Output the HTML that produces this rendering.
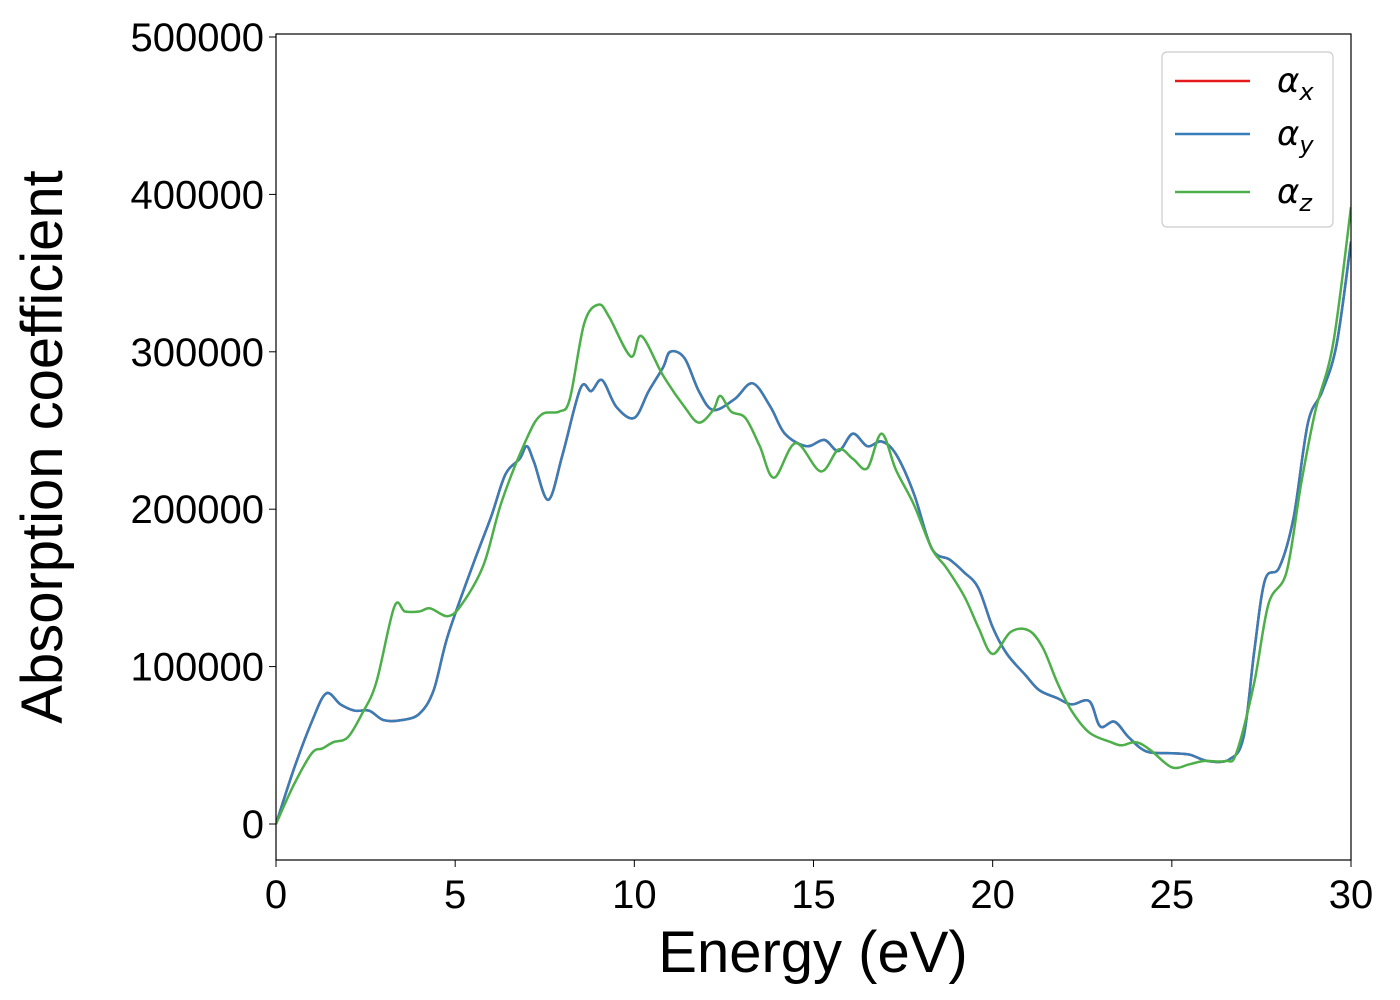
<!DOCTYPE html>
<html><head><meta charset="utf-8"><style>
html,body{margin:0;padding:0;background:#fff;}
svg{display:block;font-family:"Liberation Sans","DejaVu Sans",sans-serif;}
</style></head><body>
<svg id="chart" width="1400" height="1000" viewBox="0 0 1400 1000">
<rect x="0" y="0" width="1400" height="1000" fill="#fff"/>
<g id="ticks"></g>
<g id="series" clip-path="url(#clip)"></g>
<defs><clipPath id="clip"><rect x="276" y="34" width="1075" height="826"/></clipPath></defs>
<rect x="276" y="34" width="1075" height="826" fill="none" stroke="#000" stroke-width="1.2"/>
<text x="813" y="972" font-size="58" text-anchor="middle">Energy (eV)</text>
<text transform="translate(62,447) rotate(-90)" font-size="58" text-anchor="middle">Absorption coefficient</text>
<g>
<rect x="1162" y="52" width="171" height="175" rx="5" fill="#fff" stroke="#ccc" stroke-width="1.2"/>
<g><line x1="1175" y1="81" x2="1250" y2="81" stroke="#e41a1c" stroke-width="2.5"/><text x="1277" y="92" font-size="34" font-style="italic" font-family="DejaVu Sans, sans-serif">α<tspan font-size="24" dy="8">x</tspan></text></g>
<g><line x1="1175" y1="134" x2="1250" y2="134" stroke="#377eb8" stroke-width="2.5"/><text x="1277" y="145" font-size="34" font-style="italic" font-family="DejaVu Sans, sans-serif">α<tspan font-size="24" dy="8">y</tspan></text></g>
<g><line x1="1175" y1="192" x2="1250" y2="192" stroke="#4daf4a" stroke-width="2.5"/><text x="1277" y="203" font-size="34" font-style="italic" font-family="DejaVu Sans, sans-serif">α<tspan font-size="24" dy="8">z</tspan></text></g>
</g>
</svg>
<script>
const xTicks=[0,5,10,15,20,25,30];
const yTicks=[0,100000,200000,300000,400000,500000];
const energyXY=[0,0.5,1.0,1.4,1.8,2.2,2.6,3.0,3.5,4.0,4.4,4.8,5.5,6.0,6.4,6.8,7.0,7.2,7.6,8.0,8.5,8.8,9.1,9.5,10.0,10.4,10.8,11.0,11.4,11.8,12.2,12.8,13.3,13.8,14.2,14.8,15.3,15.7,16.1,16.5,16.9,17.3,17.8,18.3,18.8,19.2,19.6,20.0,20.4,20.9,21.3,21.8,22.2,22.7,23.0,23.4,23.8,24.3,25.0,25.5,26.0,26.6,27.0,27.3,27.6,28.0,28.4,28.8,29.2,29.6,30.0];
const alphaX=[0,35000,65000,83000,76000,72000,72000,66000,66000,70000,85000,120000,165000,195000,222000,232000,240000,230000,206000,235000,277000,275000,282000,265000,258000,275000,290000,300000,296000,275000,263000,270000,280000,265000,248000,240000,244000,237000,248000,240000,243000,235000,210000,175000,168000,160000,150000,125000,108000,95000,85000,80000,76000,78000,62000,65000,55000,46000,45000,44000,40000,41000,55000,110000,155000,163000,195000,255000,275000,305000,370000];
const alphaY=alphaX.slice();
const energyZ=[0,0.5,1.0,1.3,1.6,2.0,2.4,2.8,3.3,3.6,4.0,4.3,4.8,5.2,5.8,6.3,7.0,7.4,7.9,8.2,8.6,9.0,9.3,9.9,10.2,10.8,11.4,11.8,12.2,12.4,12.7,13.1,13.5,13.9,14.5,15.2,15.7,16.1,16.5,16.9,17.3,17.8,18.3,18.7,19.2,19.6,20.0,20.5,21.0,21.4,21.8,22.2,22.7,23.3,23.6,24.0,24.4,25.0,25.5,25.9,26.5,26.8,27.3,27.7,28.2,28.6,29.0,29.5,30.0];
const alphaZ=[0,25000,45000,48000,52000,55000,70000,90000,138000,135000,135000,137000,132000,140000,165000,205000,245000,260000,262000,270000,318000,330000,322000,297000,310000,285000,265000,255000,263000,272000,262000,258000,240000,220000,242000,224000,238000,232000,226000,248000,225000,203000,175000,163000,145000,125000,108000,122000,123000,112000,90000,72000,58000,52000,50000,52000,47000,36000,38000,40000,40000,45000,90000,140000,160000,215000,262000,305000,392000];
const NS="http://www.w3.org/2000/svg";
const X0=276,X1=1351,Y0=824,Y1=37;
function sx(e){return X0+(e-0)/(30-0)*(X1-X0);}
function sy(v){return Y0+(v-0)/(500000-0)*(Y1-Y0);}
function pathD(xs,ys){
  const p=xs.map((x,i)=>[sx(x),sy(ys[i])]);
  let d="M"+p[0][0].toFixed(1)+","+p[0][1].toFixed(1);
  for(let i=0;i<p.length-1;i++){
    const a=p[i>0?i-1:i],b=p[i],c=p[i+1],e=p[i+2<p.length?i+2:i+1];
    const c1=[b[0]+(c[0]-a[0])/6,b[1]+(c[1]-a[1])/6],c2=[c[0]-(e[0]-b[0])/6,c[1]-(e[1]-b[1])/6];
    d+="C"+c1[0].toFixed(1)+","+c1[1].toFixed(1)+" "+c2[0].toFixed(1)+","+c2[1].toFixed(1)+" "+c[0].toFixed(1)+","+c[1].toFixed(1);
  }
  return d;
}
const tg=document.getElementById('ticks');
xTicks.forEach(t=>{
  const l=document.createElementNS(NS,'line');l.setAttribute('x1',sx(t));l.setAttribute('x2',sx(t));l.setAttribute('y1',860);l.setAttribute('y2',867);l.setAttribute('stroke','#000');
  
  
  tg.appendChild(l);
  const tx=document.createElementNS(NS,'text');tx.setAttribute('x',sx(t));tx.setAttribute('y',908);tx.setAttribute('font-size','40');tx.setAttribute('text-anchor','middle');tx.textContent=t;
  
  
  tg.appendChild(tx);
});
yTicks.forEach(t=>{
  const l=document.createElementNS(NS,'line');l.setAttribute('x1',269);l.setAttribute('x2',276);l.setAttribute('y1',sy(t));l.setAttribute('y2',sy(t));l.setAttribute('stroke','#000');
  
  
  tg.appendChild(l);
  const tx=document.createElementNS(NS,'text');tx.setAttribute('x',264);tx.setAttribute('y',sy(t)+14);tx.setAttribute('font-size','40');tx.setAttribute('text-anchor','end');tx.textContent=t;
  
  
  tg.appendChild(tx);
});
const sg=document.getElementById('series');
[[energyXY,alphaX,'#e41a1c','series-alpha-x'],[energyXY,alphaY,'#377eb8','series-alpha-y'],[energyZ,alphaZ,'#4daf4a','series-alpha-z']].forEach(s=>{
  const p=document.createElementNS(NS,'path');p.setAttribute('d',pathD(s[0],s[1]));p.setAttribute('fill','none');p.setAttribute('stroke',s[2]);p.setAttribute('stroke-width','2.5');p.setAttribute('stroke-linejoin','round');
  
  
  sg.appendChild(p);
});
</script>
</body></html>
